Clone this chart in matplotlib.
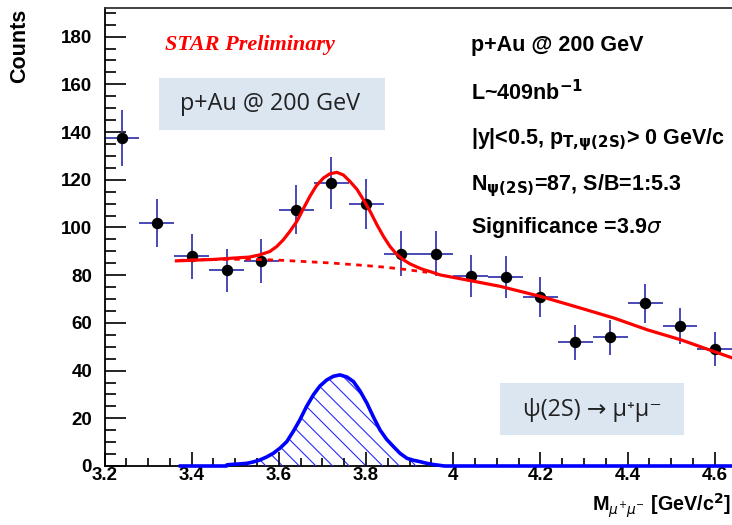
import matplotlib
matplotlib.use('Agg')
from matplotlib import pyplot as plt
from matplotlib.ticker import MultipleLocator

# data points (bin centres, counts, errors)
mass = [3.24, 3.32, 3.40, 3.48, 3.56, 3.64, 3.72, 3.80, 3.88,
        3.96, 4.04, 4.12, 4.20, 4.28, 4.36, 4.44, 4.52, 4.60]
counts = [137.6, 102, 88, 82, 86, 107.5, 118.6, 110, 89,
          89, 79.6, 79.3, 71, 51.8, 54, 68.3, 58.7, 49]
yerr = [11.8, 10.1, 9.4, 9.1, 9.3, 10.4, 10.9, 10.5, 9.4,
        9.4, 8.9, 8.9, 8.4, 7.2, 7.3, 8.2, 7.7, 7.0]
xerr = 0.04

# total fit (red solid)
fit_x = [3.365, 3.45, 3.533, 3.556, 3.579, 3.595, 3.610, 3.625, 3.641, 3.656,
         3.671, 3.686, 3.702, 3.717, 3.733, 3.748, 3.763, 3.779, 3.794, 3.810,
         3.825, 3.840, 3.855, 3.870, 3.886, 3.901, 3.917, 3.932, 3.947, 3.970,
         4.031, 4.108, 4.200, 4.292, 4.369, 4.445, 4.522, 4.598, 4.645]
fit_y = [86.0, 86.6, 87.6, 88.5, 89.9, 92.0, 94.8, 98.3, 102.5, 107.8,
         113.0, 117.5, 120.7, 122.5, 123.1, 122.0, 119.3, 116.0, 111.6, 106.5,
         101.1, 96.2, 92.0, 88.8, 86.4, 84.7, 83.4, 82.3, 81.5, 80.1,
         78.0, 75.3, 71.1, 66.2, 62.0, 57.1, 52.9, 48.0, 45.0]

# background (red dotted)
bkg_x = [3.37, 3.45, 3.53, 3.60, 3.66, 3.72, 3.78, 3.84, 3.89, 3.94]
bkg_y = [86.2, 86.6, 86.7, 86.3, 85.7, 85.1, 84.3, 83.4, 82.4, 81.2]

# signal (blue)
sig_x = [3.37, 3.48, 3.481, 3.526, 3.541, 3.556, 3.571, 3.587, 3.602, 3.618,
         3.633, 3.648, 3.663, 3.679, 3.694, 3.710, 3.725, 3.740, 3.756, 3.771,
         3.786, 3.802, 3.817, 3.832, 3.847, 3.863, 3.878, 3.894, 3.909, 3.924,
         3.940, 3.955, 3.98, 4.2, 4.4, 4.645]
sig_y = [0.0, 0.0, 0.5, 1.1, 1.7, 2.5, 3.7, 5.3, 7.4, 10.2,
         14.5, 19.3, 24.8, 29.8, 33.5, 36.1, 37.6, 38.2, 37.3, 35.4,
         31.5, 26.3, 20.5, 15.1, 11.2, 8.1, 5.3, 3.2, 2.4, 1.8,
         1.1, 0.6, 0.0, 0.0, 0.0, 0.0]

W, H = 732, 525
plt.rcParams['hatch.linewidth'] = 0.8
fig = plt.figure(figsize=(W / 100, H / 100), dpi=100)
ax = fig.add_axes([104.5 / W, 59 / H, (741 - 104.5) / W, 458 / H])
ax.set_xlim(3.2, 4.66)
ax.set_ylim(0, 192)

ax.errorbar(mass, counts, xerr=xerr, yerr=yerr, fmt='none',
            ecolor='#3a3ab0', elinewidth=1.3, capsize=0, zorder=2)
ax.plot(mass, counts, 'o', color='black', markersize=7.2, zorder=3)

ax.fill_between(sig_x, 0, sig_y, facecolor='none', edgecolor='#2a2aff',
                hatch='\\\\', linewidth=0, zorder=1)
ax.plot(sig_x, sig_y, color='#0000ff', lw=2.6, zorder=6, clip_on=False,
        solid_capstyle='butt')

ax.plot(bkg_x, bkg_y, color='red', lw=2.0, ls=(0, (2, 2)), zorder=4)
ax.plot(fit_x, fit_y, color='red', lw=2.3, zorder=5)

# ROOT-like frame
ax.spines['right'].set_visible(False)
ax.spines['top'].set_color('#333333')
ax.spines['left'].set_linewidth(1.3)
ax.spines['top'].set_linewidth(1.3)
ax.spines['bottom'].set_linewidth(1.3)
ax.spines['bottom'].set_zorder(0.5)
ax.xaxis.set_major_locator(MultipleLocator(0.2))
ax.xaxis.set_minor_locator(MultipleLocator(0.05))
ax.yaxis.set_major_locator(MultipleLocator(20))
ax.yaxis.set_minor_locator(MultipleLocator(5))
ax.tick_params(which='both', direction='in', top=False, right=False, width=1.2)
ax.tick_params(axis='y', which='major', length=15, pad=9)
ax.tick_params(axis='y', which='minor', length=8)
ax.tick_params(axis='x', which='major', length=10, pad=1)
ax.tick_params(axis='x', which='minor', length=6)
ax.set_xticks([3.2, 3.4, 3.6, 3.8, 4.0, 4.2, 4.4, 4.6])
ax.set_xticklabels(['3.2', '3.4', '3.6', '3.8', '4', '4.2', '4.4', '4.6'])
for lab in ax.get_xticklabels() + ax.get_yticklabels():
    lab.set_fontfamily('Liberation Sans')
    lab.set_fontweight('bold')
    lab.set_fontsize(13.5)

fig.text(20 / W, 1 - 46 / H, 'Counts', rotation=90, ha='center', va='center',
         fontsize=15.5, fontweight='bold', family='Liberation Sans')
fig.text(0.999, 1 - 511 / H,
         r'M$_{\mu^{+}\mu^{-}}$ [GeV/c$^{\mathbf{2}}$]', ha='right',
         va='baseline', fontsize=14.2, fontweight='bold', family='Liberation Sans')

fig.text(165 / W, 1 - 45 / H, 'STAR Preliminary', color='red', ha='left',
         va='center', fontsize=16, fontweight='bold', fontstyle='italic',
         family='Liberation Serif')

info = ['p+Au @ 200 GeV',
        r'L~409nb$^{\mathbf{-1}}$',
        r'|y|<0.5, p$_{\mathbf{T{,}\psi(2S)}}$> 0 GeV/c',
        r'N$_{\mathbf{\psi(2S)}}$=87, S/B=1:5.3',
        r'Significance =3.9$\sigma$']
info_y = [45, 93, 140, 186, 228]
for t, y in zip(info, info_y):
    fig.text(471 / W, 1 - y / H, t, ha='left', va='center', fontsize=15.5,
             fontweight='bold', family='Liberation Sans')

box_col = '#dce6f1'
fig.text(270 / W, 1 - 104 / H, 'p+Au @ 200 GeV', ha='center', va='center',
         fontsize=16.8, family=['Open Sans', 'DejaVu Sans'], color='#222222')
fig.patches.append(plt.Rectangle((159 / W, 1 - 130 / H), 226 / W, 52 / H,
                                 transform=fig.transFigure, facecolor=box_col,
                                 edgecolor='none', zorder=-1))
fig.text(592 / W, 1 - 410 / H, 'ψ(2S) → μ⁺μ⁻', ha='center', va='center',
         fontsize=16.8, family=['Open Sans', 'DejaVu Sans'], color='#222222')
fig.patches.append(plt.Rectangle((500 / W, 1 - 435 / H), 184 / W, 52 / H,
                                 transform=fig.transFigure, facecolor=box_col,
                                 edgecolor='none', zorder=-1))
ax.set_zorder(1)
ax.patch.set_alpha(0)

fig.savefig('out.png', dpi=100)
